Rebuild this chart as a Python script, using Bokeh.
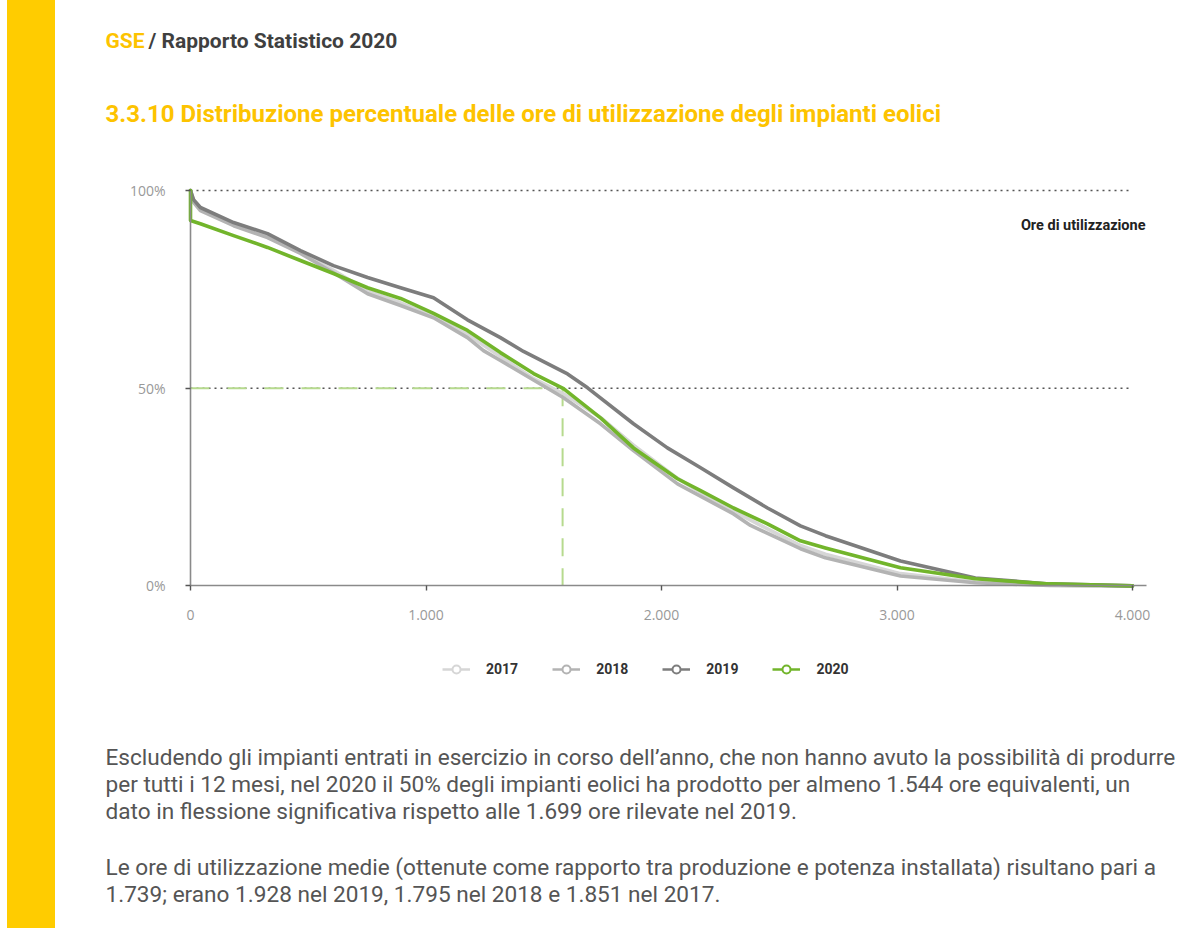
from bokeh.plotting import figure
from bokeh.models import (Range1d, FixedTicker, Legend, LegendItem, Label, Spacer)
from bokeh.layouts import row
from bokeh.embed import file_html
from bokeh.resources import INLINE

# ---------------- data ----------------
years = ["2017", "2018", "2019", "2020"]

hours_2017 = [0, 13, 42, 183, 327, 467, 607, 752, 892, 1032, 1176, 1316, 1457, 1584, 1741,
              1881, 2068, 2166, 2306, 2450, 2590, 2696, 3015, 3333, 3648, 4000]
pct_2017 = [100, 97.3, 95.3, 91.4, 88.4, 84.4, 79.8, 74.6, 71.6, 68.2, 63.6, 58.0, 52.4, 48.6, 42.6,
            35.6, 27.2, 23.6, 18.9, 14.4, 10.2, 8.0, 3.1, 1.0, 0.2, 0]

hours_2018 = [0, 13, 42, 183, 327, 467, 607, 752, 892, 1032, 1176, 1244, 1316, 1584, 1741,
              1881, 2068, 2306, 2378, 2590, 2696, 3015, 3333, 3648, 4000]
pct_2018 = [100, 97.0, 94.9, 91.1, 88.1, 84.1, 79.2, 73.9, 70.9, 67.8, 62.8, 59.5, 57.0, 47.6, 41.0,
            34.2, 25.8, 18.2, 15.3, 9.4, 7.1, 2.5, 0.8, 0.1, 0]

hours_2019 = [0, 13, 42, 183, 327, 467, 607, 752, 892, 1032, 1176, 1316, 1414, 1601, 1686,
              1881, 2025, 2166, 2306, 2450, 2590, 2696, 3015, 3333, 3648, 4000]
pct_2019 = [100, 97.7, 95.7, 91.9, 89.1, 84.8, 81.0, 78.0, 75.4, 72.9, 67.3, 62.8, 59.3, 53.6, 50.1,
            41.0, 34.9, 29.9, 24.8, 19.7, 15.2, 12.7, 6.3, 2.0, 0.5, 0]

hours_2020 = [0, 0, 42, 183, 327, 467, 607, 752, 892, 1032, 1176, 1316, 1457, 1584, 1741,
              1881, 2068, 2166, 2306, 2450, 2590, 2696, 3015, 3333, 3648, 4000]
pct_2020 = [100, 92.4, 91.6, 88.6, 85.6, 82.3, 79.0, 75.4, 72.7, 68.9, 64.6, 59.0, 53.7, 49.9, 42.5,
            34.9, 27.1, 24.1, 19.7, 15.7, 11.4, 9.6, 4.6, 1.8, 0.5, 0]

median_hours_2020 = 1580
median_pct = 50

x_ticks = [0, 1000, 2000, 3000, 4000]
x_tick_labels = ["0", "1.000", "2.000", "3.000", "4.000"]
y_ticks = [0, 50, 100]
y_tick_labels = ["0%", "50%", "100%"]
grid_ticks = [50, 100]

header_brand = "GSE"
header_rest = "/ Rapporto Statistico 2020"
chart_title = "3.3.10 Distribuzione percentuale delle ore di utilizzazione degli impianti eolici"
series_note = "Ore di utilizzazione"
paragraph_lines = [
    "Escludendo gli impianti entrati in esercizio in corso dell\u2019anno, che non hanno avuto la possibilit\u00e0 di produrre",
    "per tutti i 12 mesi, nel 2020 il 50% degli impianti eolici ha prodotto per almeno 1.544 ore equivalenti, un",
    "dato in flessione significativa rispetto alle 1.699 ore rilevate nel 2019.",
    "Le ore di utilizzazione medie (ottenute come rapporto tra produzione e potenza installata) risultano pari a",
    "1.739; erano 1.928 nel 2019, 1.795 nel 2018 e 1.851 nel 2017.",
]

# ---------------- styles / layout ----------------
YELLOW = "#FFCC00"
TITLE_YELLOW = "#FDC300"
colors = {"2017": "#d6d6d6", "2018": "#b3b3b3", "2019": "#7d7d7d", "2020": "#72b52b"}
series = {"2017": (hours_2017, pct_2017), "2018": (hours_2018, pct_2018),
          "2019": (hours_2019, pct_2019), "2020": (hours_2020, pct_2020)}

H = 928
BAR_X0, BAR_W = 7, 48
FIG_X0 = BAR_X0 + BAR_W          # 55
MAIN_W = 1184 - FIG_X0
TEXT_X = 105 - FIG_X0
para_y = [757, 784, 811, 867, 894]

# pixel geometry of the chart area (page pixels)
AXIS_X0, AXIS_X4000 = 190, 1132
FRAME_L, FRAME_R = 125, 1160
px_per_hour = (AXIS_X4000 - AXIS_X0) / 4000.0
x_start = -(AXIS_X0 - FRAME_L) / px_per_hour
x_end = (FRAME_R - AXIS_X0) / px_per_hour
axis_end = (1146 - AXIS_X0) / px_per_hour
grid_end = (1130 - AXIS_X0) / px_per_hour

Y100, Y0 = 190, 585.4
FRAME_T, FRAME_B = 170, 700
px_per_pct = (Y0 - Y100) / 100.0
y_start = -(FRAME_B - Y0) / px_per_pct
y_end = 100 + (Y100 - FRAME_T) / px_per_pct

# yellow vertical bar
bar = Spacer(width=BAR_W, height=H, styles={"background-color": YELLOW})

# main figure
p = figure(width=MAIN_W, height=H, output_backend="svg", toolbar_location=None,
           x_range=Range1d(x_start, x_end), y_range=Range1d(y_start, y_end),
           min_border_left=FRAME_L - FIG_X0, min_border_right=1184 - FRAME_R,
           min_border_top=FRAME_T, min_border_bottom=H - FRAME_B)
p.outline_line_color = None
p.background_fill_color = "white"
p.border_fill_color = "white"
p.grid.visible = False

p.xaxis.ticker = FixedTicker(ticks=x_ticks)
p.xaxis.major_label_overrides = {t: l for t, l in zip(x_ticks, x_tick_labels)}
p.xaxis.fixed_location = 0
p.xaxis.bounds = (0, axis_end)
p.yaxis.ticker = FixedTicker(ticks=y_ticks)
p.yaxis.major_label_overrides = {t: l for t, l in zip(y_ticks, y_tick_labels)}
p.yaxis.fixed_location = 0
p.yaxis.bounds = (0, 100)
for ax in (p.xaxis, p.yaxis):
    ax.axis_line_color = "#8a8a8a"
    ax.axis_line_width = 1.6
    ax.major_tick_line_color = "#555555"
    ax.major_tick_line_width = 1.4
    ax.major_tick_out = 5
    ax.major_tick_in = 0
    ax.minor_tick_line_color = None
    ax.major_label_text_font = "Open Sans"
    ax.major_label_text_font_size = "14px"
    ax.major_label_text_color = "#999999"
p.xaxis.major_label_standoff = 19
p.yaxis.major_label_standoff = 20

# dotted horizontal reference lines at 50% and 100%
p.segment(x0=[0] * len(grid_ticks), x1=[grid_end] * len(grid_ticks), y0=grid_ticks, y1=grid_ticks,
          line_color="#555555", line_width=1.6, line_dash="2 4")

# median marker lines
p.line(x=[0, median_hours_2020], y=[median_pct, median_pct], line_color="#b6da8e",
       line_width=2, line_dash="19 18")
p.line(x=[median_hours_2020, median_hours_2020], y=[median_pct, 0], line_color="#b6da8e",
       line_width=2, line_dash="18 12")

for yr in years:
    hx, py = series[yr]
    p.line(x=hx, y=py, line_color=colors[yr], line_width=3.6, line_join="round", line_cap="round")

# legend proxies (no visible marks on the chart)
nan = float("nan")
items = []
for yr in years:
    lr = p.line(x=[nan], y=[nan], line_color=colors[yr], line_width=2.5)
    cr = p.scatter(x=[nan], y=[nan], marker="circle", size=9, fill_color="white",
                   line_color=colors[yr], line_width=2)
    items.append(LegendItem(label=yr, renderers=[lr, cr]))

LEGEND_LEFT, LEGEND_CENTER_Y = 442, 665
legend = Legend(items=items, orientation="horizontal",
                location=(LEGEND_LEFT - FRAME_L, FRAME_B - LEGEND_CENTER_Y - 14),
                glyph_width=28, glyph_height=20, label_standoff=16, spacing=34,
                label_text_font="Roboto", label_text_font_style="bold",
                label_text_font_size="14px", label_text_color="#333333",
                border_line_color=None, background_fill_alpha=0, padding=4, margin=0)
p.add_layout(legend, "center")

p.add_layout(Label(x=axis_end, y=91.1, text=series_note, text_align="right", text_baseline="middle",
                   text_font="Roboto", text_font_style="bold", text_font_size="14.5px",
                   text_color="#222222", x_offset=-1))

# page texts, placed in the side panels (canvas pixel units of the main figure)
p.add_layout(Label(x=TEXT_X, y=40, x_units="canvas", y_units="canvas", text=header_brand,
                   text_font="Roboto", text_font_style="bold", text_font_size="21px",
                   text_color=TITLE_YELLOW, text_baseline="middle"), "above")
p.add_layout(Label(x=TEXT_X + 43, y=40, x_units="canvas", y_units="canvas", text=header_rest,
                   text_font="Roboto", text_font_style="bold", text_font_size="21px",
                   text_color="#3f3f3f", text_baseline="middle"), "above")
p.add_layout(Label(x=TEXT_X, y=113, x_units="canvas", y_units="canvas", text=chart_title,
                   text_font="Roboto", text_font_style="bold", text_font_size="24px",
                   text_color=TITLE_YELLOW, text_baseline="middle"), "above")
for txt, yy in zip(paragraph_lines, para_y):
    p.add_layout(Label(x=TEXT_X, y=yy, x_units="canvas", y_units="canvas", text=txt,
                       text_font="Roboto", text_font_size="22.6px", text_color="#555555",
                       text_baseline="middle"), "below")

layout = row(Spacer(width=BAR_X0, height=H), bar, p)
open("out.html", "w").write(file_html(layout, INLINE))
